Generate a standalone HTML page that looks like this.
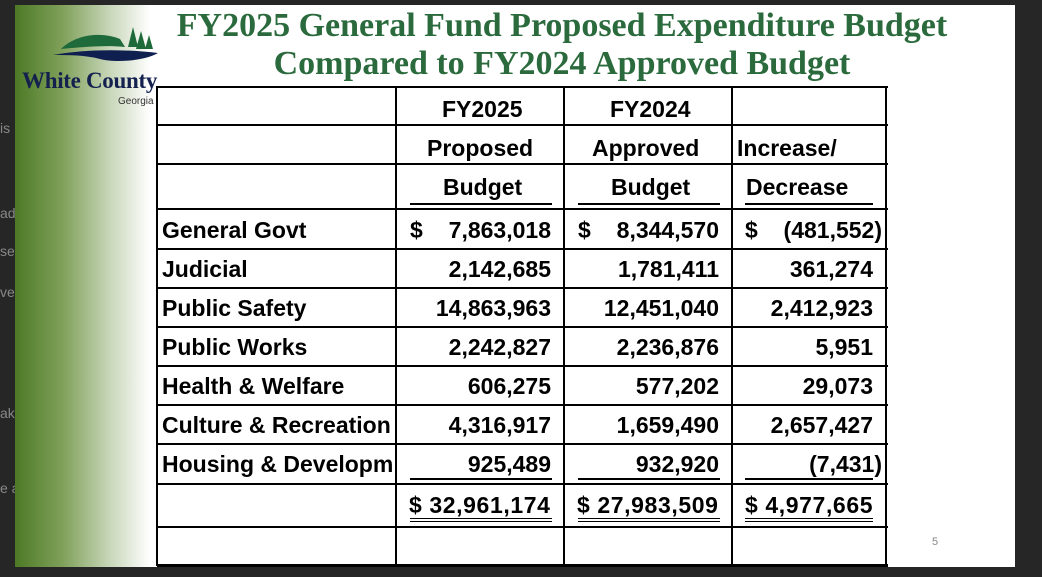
<!DOCTYPE html>
<html><head><style>
body{margin:0;width:1042px;height:577px;background:#262626;position:relative;overflow:hidden;font-family:"Liberation Sans",sans-serif}
.slide{position:absolute;left:15px;top:5px;width:1000px;height:562px;background:#fff;overflow:hidden}
.grad{position:absolute;left:0;top:0;width:135px;height:562px;background:linear-gradient(to right,#4d7a26 0%,#7fa05a 35%,#c7d6b8 70%,#fff 100%)}
.t{position:absolute;color:#2a6a3c;font-family:"Liberation Serif",serif;font-weight:bold;font-size:34px;text-align:center;width:800px;left:147px;white-space:nowrap}
.h{position:absolute;background:#000;height:2px}
.v{position:absolute;background:#000;width:2px}
.c{position:absolute;font-weight:bold;font-size:23px;color:#000;white-space:nowrap;line-height:28px}
.r{text-align:right}
.u{position:absolute;background:#000;height:2px}
.side{position:absolute;color:#888;font-size:14px}
</style></head><body>
<div class="side" style="left:0;top:120px">is</div>
<div class="side" style="left:0;top:205px">adi</div>
<div class="side" style="left:0;top:243px">se</div>
<div class="side" style="left:0;top:284px">ve</div>
<div class="side" style="left:0;top:405px">aks</div>
<div class="side" style="left:0;top:480px">e a</div>
<div class="slide">
<div class="grad"></div>
<svg style="position:absolute;left:30px;top:22px" width="115" height="40" viewBox="0 0 115 40">
<path d="M16 22 C30 8 55 4 75 12 L80 20 C60 18 40 20 16 22Z" fill="#1e6a3a"/>
<path d="M88 0 l5 20 h-10z M96 4 l5 18 h-10z M104 8 l4 14 h-8z" fill="#1e6a3a"/>
<path d="M8 28 C40 22 80 22 113 26 C100 34 70 36 55 32 C40 28 25 28 8 28Z" fill="#0f1f4f"/>
</svg>
<div style="position:absolute;left:7px;top:63px;font-family:'Liberation Serif',serif;font-weight:bold;font-size:23px;color:#14214f;letter-spacing:-0.3px">White County</div>
<div style="position:absolute;left:103px;top:91px;font-size:10px;color:#333">Georgia</div>
<div class="t" style="top:2px">FY2025 General Fund Proposed Expenditure Budget</div>
<div class="t" style="top:40px">Compared to FY2024 Approved Budget</div>
<div style="position:absolute;left:917px;top:531px;font-size:11px;color:#888">5</div>
</div>
<!-- table lines -->
<div class="h" style="left:157px;width:731px;top:86px"></div>
<div class="h" style="left:157px;width:731px;top:124px"></div>
<div class="h" style="left:157px;width:731px;top:163px"></div>
<div class="h" style="left:157px;width:731px;top:208px"></div>
<div class="h" style="left:157px;width:731px;top:248px"></div>
<div class="h" style="left:157px;width:731px;top:287px"></div>
<div class="h" style="left:157px;width:731px;top:326px"></div>
<div class="h" style="left:157px;width:731px;top:365px"></div>
<div class="h" style="left:157px;width:731px;top:404px"></div>
<div class="h" style="left:157px;width:731px;top:443px"></div>
<div class="h" style="left:157px;width:731px;top:483px"></div>
<div class="h" style="left:157px;width:731px;top:526px"></div>
<div class="h" style="left:157px;width:731px;top:564px;height:3px"></div>
<div class="v" style="left:156px;top:86px;height:480px"></div>
<div class="v" style="left:395px;top:86px;height:480px"></div>
<div class="v" style="left:563px;top:86px;height:480px"></div>
<div class="v" style="left:731px;top:86px;height:480px"></div>
<div class="v" style="left:885px;top:86px;height:480px"></div>
<!-- headers -->
<div class="c" style="left:442px;top:95px">FY2025</div>
<div class="c" style="left:610px;top:95px">FY2024</div>
<div class="c" style="left:427px;top:134px">Proposed</div>
<div class="c" style="left:592px;top:134px">Approved</div>
<div class="c" style="left:737px;top:134px">Increase/</div>
<div class="c" style="left:443px;top:173px">Budget</div>
<div class="c" style="left:611px;top:173px">Budget</div>
<div class="c" style="left:746px;top:173px">Decrease</div>
<div class="u" style="left:410px;width:142px;top:203px"></div>
<div class="u" style="left:578px;width:142px;top:203px"></div>
<div class="u" style="left:745px;width:128px;top:203px"></div>
<!-- rows -->
<div class="c" style="left:162px;top:216px">General Govt</div>
<div class="c" style="left:162px;top:255px">Judicial</div>
<div class="c" style="left:162px;top:294px">Public Safety</div>
<div class="c" style="left:162px;top:333px">Public Works</div>
<div class="c" style="left:162px;top:372px">Health &amp; Welfare</div>
<div class="c" style="left:162px;top:411px">Culture &amp; Recreation</div>
<div class="c" style="left:162px;top:450px;width:232px;overflow:hidden">Housing &amp; Development</div>
<div class="c" style="left:410px;top:216px">$</div>
<div class="c" style="left:578px;top:216px">$</div>
<div class="c" style="left:745px;top:216px">$</div>
<div class="c r" style="left:400px;width:151px;top:216px">7,863,018</div>
<div class="c r" style="left:568px;width:151px;top:216px">8,344,570</div>
<div class="c r" style="left:736px;width:146px;top:216px">(481,552)</div>
<div class="c r" style="left:400px;width:151px;top:255px">2,142,685</div>
<div class="c r" style="left:568px;width:151px;top:255px">1,781,411</div>
<div class="c r" style="left:736px;width:137px;top:255px">361,274</div>
<div class="c r" style="left:400px;width:151px;top:294px">14,863,963</div>
<div class="c r" style="left:568px;width:151px;top:294px">12,451,040</div>
<div class="c r" style="left:736px;width:137px;top:294px">2,412,923</div>
<div class="c r" style="left:400px;width:151px;top:333px">2,242,827</div>
<div class="c r" style="left:568px;width:151px;top:333px">2,236,876</div>
<div class="c r" style="left:736px;width:137px;top:333px">5,951</div>
<div class="c r" style="left:400px;width:151px;top:372px">606,275</div>
<div class="c r" style="left:568px;width:151px;top:372px">577,202</div>
<div class="c r" style="left:736px;width:137px;top:372px">29,073</div>
<div class="c r" style="left:400px;width:151px;top:411px">4,316,917</div>
<div class="c r" style="left:568px;width:151px;top:411px">1,659,490</div>
<div class="c r" style="left:736px;width:137px;top:411px">2,657,427</div>
<div class="c r" style="left:400px;width:151px;top:450px">925,489</div>
<div class="c r" style="left:568px;width:151px;top:450px">932,920</div>
<div class="c r" style="left:736px;width:146px;top:450px">(7,431)</div>
<div class="u" style="left:410px;width:142px;top:478px"></div>
<div class="u" style="left:578px;width:142px;top:478px"></div>
<div class="u" style="left:745px;width:128px;top:478px"></div>
<div class="c" style="left:409px;top:491px;letter-spacing:0.6px">$ 32,961,174</div>
<div class="c" style="left:577px;top:491px;letter-spacing:0.6px">$ 27,983,509</div>
<div class="c" style="left:745px;top:491px;letter-spacing:0.6px">$ 4,977,665</div>
<div class="u" style="left:410px;width:142px;top:518px;height:1px"></div>
<div class="u" style="left:410px;width:142px;top:521px;height:1px"></div>
<div class="u" style="left:578px;width:142px;top:518px;height:1px"></div>
<div class="u" style="left:578px;width:142px;top:521px;height:1px"></div>
<div class="u" style="left:745px;width:128px;top:518px;height:1px"></div>
<div class="u" style="left:745px;width:128px;top:521px;height:1px"></div>
</body></html>
